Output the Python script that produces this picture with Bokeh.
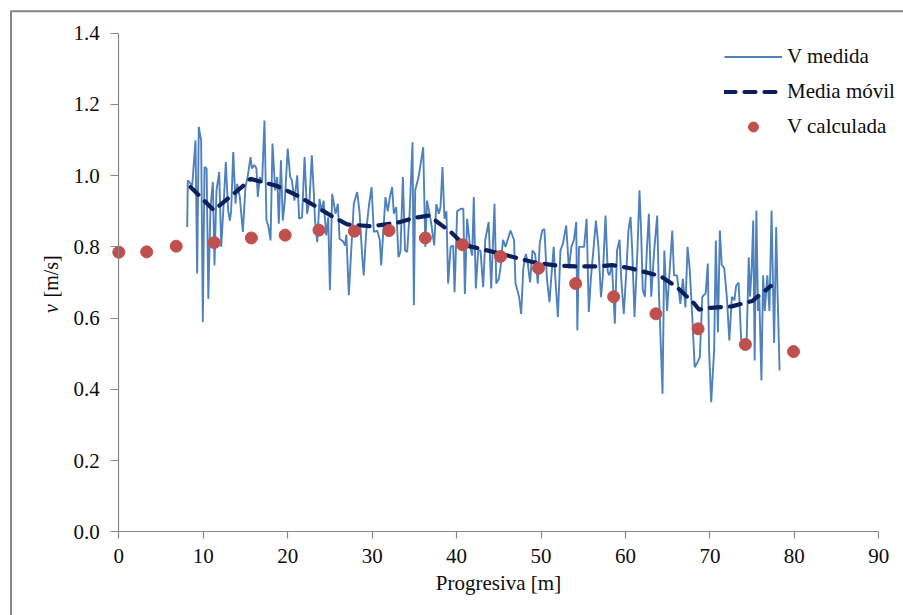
import math
from bokeh.plotting import figure
from bokeh.models import Range1d, FixedTicker, PrintfTickFormatter, Legend, LegendItem, Label
from bokeh.embed import file_html
from bokeh.resources import INLINE

# ---- Data ----
x_ticks = [0, 10, 20, 30, 40, 50, 60, 70, 80, 90]
y_ticks = [0.0, 0.2, 0.4, 0.6, 0.8, 1.0, 1.2, 1.4]

# V medida (measured velocity), progresiva [m]
x_med_a = [8.1, 8.17, 8.7, 9.08, 9.28, 9.47, 9.75, 9.95, 10.15, 10.4, 10.6, 10.86, 11.14, 11.33, 11.57,
           11.89, 12.13, 12.4, 12.67, 12.95, 13.15, 13.3, 13.55, 13.82, 14.02, 14.33, 14.69, 15.0, 15.25,
           15.6, 15.77, 16.05, 16.3, 16.46, 16.7, 16.97, 17.25, 17.49, 17.7, 17.97, 18.2, 18.52, 18.76,
           18.95, 19.2, 19.42, 19.66, 20.0, 20.3, 20.5, 20.8, 21.13, 21.36, 21.7, 22.0, 22.3, 22.58, 22.86,
           23.1, 23.24, 23.5, 23.77, 24.0, 24.25, 24.56, 24.8, 25.0]
v_med_a = [0.856, 0.987, 0.973, 1.099, 0.725, 1.137, 1.099, 0.589, 1.024, 1.02, 0.654, 0.912, 0.982, 0.748,
           0.959, 1.010, 0.80, 0.912, 1.038, 0.902, 0.874, 0.90, 1.066, 0.921, 0.977, 0.94, 0.842, 0.968,
           0.996, 1.052, 1.02, 1.03, 1.02, 0.94, 0.996, 0.98, 1.155, 0.874, 0.86, 0.818, 1.090, 0.959, 0.996,
           0.865, 1.043, 0.874, 0.93, 1.076, 0.996, 0.987, 0.93, 1.001, 0.879, 0.883, 1.052, 0.893, 0.93,
           1.057, 0.949, 0.874, 0.813, 0.935, 0.90, 0.93, 0.832, 0.883, 0.678]

x_med_b = [25.27, 25.67, 25.94, 26.14, 26.57, 26.8, 26.95, 27.24, 27.5, 27.83, 28.23, 28.5, 28.82, 29.0,
           29.3, 29.6, 29.93, 30.2, 30.6, 30.9, 31.07, 31.3, 31.58, 31.85, 32.1, 32.37, 32.57, 32.85, 33.12,
           33.35, 33.64, 33.9, 34.15, 34.45, 34.78, 34.94, 35.1, 35.5, 36.05, 36.3, 36.5, 36.8, 37.0, 37.35,
           37.6, 37.9, 38.1, 38.33, 38.57, 38.8, 39.0, 39.3, 39.6, 39.76, 40.07, 40.5, 40.8, 40.98, 41.25,
           41.6, 41.85, 42.04, 42.28, 42.56, 42.83]
v_med_b = [0.949, 0.893, 0.921, 0.823, 0.815, 0.804, 0.835, 0.664, 0.78, 0.921, 0.954, 0.90, 0.776, 0.72,
           0.842, 0.912, 0.968, 0.842, 0.846, 0.82, 0.748, 0.835, 0.94, 0.90, 0.94, 0.968, 0.893, 0.912,
           0.771, 0.786, 0.996, 0.79, 0.786, 0.90, 1.094, 0.636, 0.959, 0.996, 1.080, 0.80, 0.93, 0.893,
           0.865, 0.804, 0.92, 0.893, 0.912, 1.024, 0.879, 0.90, 0.697, 0.80, 0.804, 0.673, 0.90, 0.907,
           0.907, 0.668, 0.879, 0.80, 0.776, 0.94, 0.683, 0.79, 0.79]

x_med_c = [43.15, 43.4, 43.8, 44.1, 44.49, 44.7, 45.0, 45.2, 45.5, 45.8, 46.05, 46.39, 46.8, 46.98, 47.4,
           47.65, 47.9, 48.2, 48.4, 48.7, 49.0, 49.3, 49.62, 49.85, 50.14, 50.4, 50.7, 51.0, 51.3, 51.5,
           51.7, 52.0, 52.3, 52.6, 52.98, 53.3, 53.6, 53.9, 54.17, 54.3, 54.5, 54.8, 55.1, 55.4, 55.66,
           55.9, 56.2, 56.5, 56.8, 57.1, 57.3, 57.64, 57.9, 58.1, 58.4, 58.74, 59.0, 59.3, 59.5, 59.8,
           60.1, 60.35, 60.6]
v_med_c = [0.687, 0.82, 0.87, 0.683, 0.921, 0.697, 0.71, 0.74, 0.82, 0.80, 0.82, 0.846, 0.82, 0.697, 0.66,
           0.612, 0.74, 0.78, 0.76, 0.70, 0.79, 0.78, 0.697, 0.81, 0.846, 0.85, 0.71, 0.645, 0.74, 0.80,
           0.71, 0.603, 0.79, 0.81, 0.860, 0.74, 0.80, 0.82, 0.870, 0.565, 0.80, 0.80, 0.80, 0.879, 0.617,
           0.71, 0.79, 0.874, 0.80, 0.659, 0.71, 0.888, 0.73, 0.72, 0.75, 0.584, 0.79, 0.82, 0.71, 0.612,
           0.73, 0.846, 0.884]

x_med_d = [60.8, 61.07, 61.4, 61.66, 61.85, 62.05, 62.3, 62.55, 62.77, 63.05, 63.4, 63.76, 63.95, 64.39,
           64.6, 64.93, 65.25, 65.54, 65.75, 66.1, 66.5, 66.8, 67.1, 67.35, 67.6, 67.9, 68.2, 68.5, 68.8,
           69.1, 69.5, 69.75, 69.9, 70.15, 70.5, 70.7, 70.95, 71.18, 71.4, 71.7, 72.0, 72.3, 72.6, 72.9,
           73.1, 73.4, 73.7, 74.0, 74.33, 74.6, 74.75, 74.95, 75.13, 75.3, 75.5, 75.7, 75.85, 76.1, 76.3,
           76.5, 76.8, 77.05, 77.3, 77.6, 77.85, 78.0, 78.25]
v_med_d = [0.79, 0.603, 0.78, 0.959, 0.846, 0.678, 0.66, 0.80, 0.893, 0.66, 0.79, 0.888, 0.68, 0.388,
           0.79, 0.62, 0.74, 0.846, 0.72, 0.72, 0.64, 0.71, 0.63, 0.80, 0.74, 0.61, 0.462, 0.475, 0.49,
           0.66, 0.67, 0.753, 0.51, 0.364, 0.51, 0.818, 0.56, 0.846, 0.75, 0.74, 0.66, 0.537, 0.66, 0.65,
           0.69, 0.70, 0.54, 0.53, 0.518, 0.771, 0.66, 0.74, 0.874, 0.481, 0.902, 0.62, 0.66, 0.425, 0.72,
           0.62, 0.72, 0.62, 0.902, 0.53, 0.856, 0.68, 0.453]

# Media movil (moving average)
x_ma = [8.5, 11.25, 14.8, 15.6, 17.0, 18.75, 20.9, 23.1, 25.1, 27.05, 30.0, 33.2, 35.1, 36.7, 39.3, 40.9,
        42.8, 46.8, 49.1, 51.7, 54.3, 56.7, 58.4, 60.6, 64.15, 66.1, 68.1, 68.7, 70.1, 72.6, 75.0, 77.2]
v_ma = [0.968, 0.903, 0.973, 0.991, 0.982, 0.971, 0.947, 0.917, 0.888, 0.863, 0.858, 0.869, 0.882, 0.888,
        0.842, 0.805, 0.795, 0.771, 0.757, 0.748, 0.745, 0.745, 0.749, 0.740, 0.718, 0.687, 0.642, 0.624,
        0.629, 0.633, 0.648, 0.690]

# V calculada (computed velocity)
x_calc = [0, 3.3, 6.8, 11.3, 15.7, 19.7, 23.7, 27.9, 32.0, 36.3, 40.7, 45.2, 49.7, 54.1, 58.6, 63.6,
          68.6, 74.2, 79.9]
v_calc = [0.785, 0.786, 0.802, 0.812, 0.825, 0.833, 0.847, 0.844, 0.846, 0.825, 0.806, 0.773, 0.740,
          0.697, 0.660, 0.612, 0.570, 0.526, 0.506]

x_med = x_med_a + x_med_b + x_med_c + x_med_d
v_med = v_med_a + v_med_b + v_med_c + v_med_d
assert len(x_med) == len(v_med)
assert len(x_ma) == len(v_ma)
assert len(x_calc) == len(v_calc)

# ---- Layout (pixel geometry of the canvas) ----
W, H = 903, 615
PX_LEFT, PX_RIGHT = 118.3, 878.3      # canvas x of x=0 and x=90
PX_BOTTOM, PX_TOP = 531.3, 32.7       # canvas y of y=0 and y=1.4
sx = (PX_RIGHT - PX_LEFT) / 90.0
sy = (PX_BOTTOM - PX_TOP) / 1.4


def dx(px):
    return (px - PX_LEFT) / sx


def dy(py):
    return (PX_BOTTOM - py) / sy


FONT = "Liberation Serif, Times New Roman, DejaVu Serif, serif"
AXIS_COLOR = "#868686"
TEXT_COLOR = "#0d0d0d"

p = figure(width=W, height=H, x_range=Range1d(dx(0), dx(W)), y_range=Range1d(dy(H), dy(0)),
           output_backend="svg", toolbar_location=None,
           min_border_left=0, min_border_right=0, min_border_top=0, min_border_bottom=0)
p.background_fill_color = "white"
p.border_fill_color = "white"
p.outline_line_color = None
p.grid.visible = False

# chart-area frame: only its left and top edges are inside the picture
FRAME_X, FRAME_Y = 10.5, 10.8
p.line([dx(FRAME_X), dx(FRAME_X), dx(W + 10)], [dy(H + 10), dy(FRAME_Y), dy(FRAME_Y)],
       line_color="#858585", line_width=2)

r_med = p.line(x_med, v_med, line_color="#4F81BD", line_width=1.9)
r_ma = p.line(x_ma, v_ma, line_color="#0B1F5C", line_width=4.2, line_dash="11 9", line_cap="round")
r_calc = p.scatter(x_calc, v_calc, marker="circle", size=12, fill_color="#C0504D", line_color="#C0504D")

p.xaxis.fixed_location = 0
p.yaxis.fixed_location = 0
p.xaxis.bounds = (0, 90)
p.yaxis.bounds = (0, 1.4)
p.xaxis.ticker = FixedTicker(ticks=x_ticks)
p.yaxis.ticker = FixedTicker(ticks=y_ticks)
p.xaxis.formatter = PrintfTickFormatter(format="%d")
p.yaxis.formatter = PrintfTickFormatter(format="%.1f")
for ax in (p.xaxis[0], p.yaxis[0]):
    ax.axis_line_color = AXIS_COLOR
    ax.axis_line_width = 1.2
    ax.major_tick_line_color = AXIS_COLOR
    ax.major_tick_line_width = 1.2
    ax.major_tick_in = 0
    ax.minor_tick_line_color = None
    ax.major_label_text_font = FONT
    ax.major_label_text_font_size = "21px"
    ax.major_label_text_color = TEXT_COLOR
p.xaxis.major_tick_out = 7
p.yaxis.major_tick_out = 8
p.xaxis.major_label_standoff = 10
p.yaxis.major_label_standoff = 11
p.xaxis.axis_label = "Progresiva [m]"
p.xaxis.axis_label_text_font = FONT
p.xaxis.axis_label_text_font_size = "21px"
p.xaxis.axis_label_text_font_style = "normal"
p.xaxis.axis_label_text_color = TEXT_COLOR
p.xaxis.axis_label_standoff = 5

# y axis title: italic "v" followed by "[m/s]"
YLAB_X = 50.5
p.add_layout(Label(x=dx(YLAB_X), y=dy(312.5), text="v", angle=math.pi / 2, text_font=FONT,
                   text_font_style="italic", text_font_size="20px", text_color=TEXT_COLOR,
                   text_baseline="alphabetic", text_align="left"))
p.add_layout(Label(x=dx(YLAB_X), y=dy(297), text="[m/s]", angle=math.pi / 2, text_font=FONT,
                   text_font_size="20px", text_color=TEXT_COLOR,
                   text_baseline="alphabetic", text_align="left"))

legend = Legend(items=[LegendItem(label="V medida", renderers=[r_med]),
                       LegendItem(label="Media móvil", renderers=[r_ma]),
                       LegendItem(label="V calculada", renderers=[r_calc])],
                location=(724, H - 138.5), orientation="vertical")
legend.border_line_color = None
legend.background_fill_alpha = 0
legend.padding = 0
legend.margin = 0
legend.spacing = 10
legend.glyph_width = 58
legend.glyph_height = 25
legend.label_height = 25
legend.label_standoff = 5
legend.label_text_font = FONT
legend.label_text_font_size = "21px"
legend.label_text_color = TEXT_COLOR
p.add_layout(legend)

open("out.html", "w").write(file_html(p, INLINE))
